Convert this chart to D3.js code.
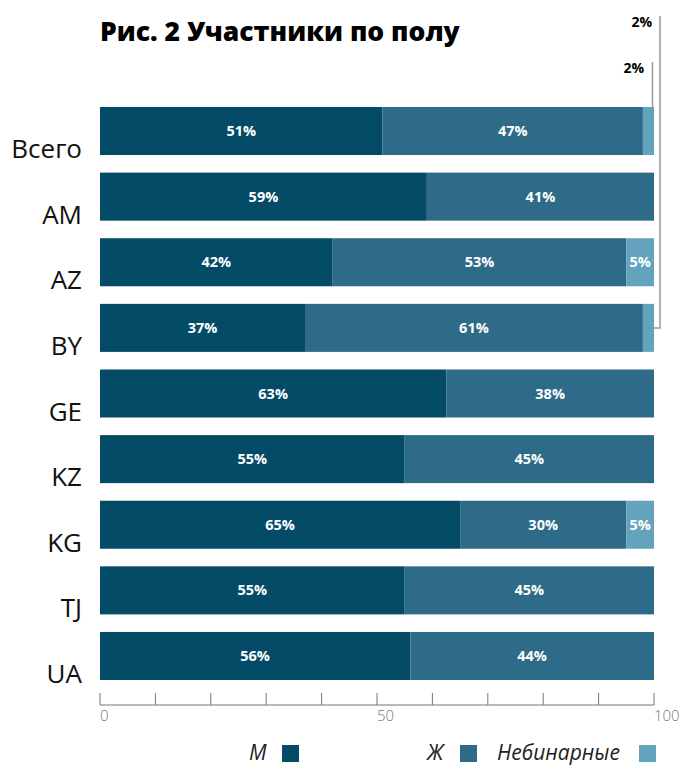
<!DOCTYPE html>
<html>
<head>
<meta charset="utf-8">
<script src="https://cdn.jsdelivr.net/npm/d3@7"></script>
<style>
  body { margin: 0; background: #fff; }
  svg { display: block; font-family: "Open Sans", "Noto Sans", sans-serif; }
</style>
</head>
<body>
<div id="chart"></div>
<script>
// data
var countries = ["Всего", "AM", "AZ", "BY", "GE", "KZ", "KG", "TJ", "UA"];
var male = [51, 59, 42, 37, 62.5, 55, 65, 55, 56];
var female = [47, 41, 53, 61, 37.5, 45, 30, 45, 44];
var nonbinary = [2, 0, 5, 2, 0, 0, 5, 0, 0];
var seriesNames = ["М", "Ж", "Небинарные"];
var colors = ["#044b67", "#2e6b88", "#64a3bd"];
var tickValues = [0, 10, 20, 30, 40, 50, 60, 70, 80, 90, 100];
var tickLabels = [0, 50, 100];

const W = 683, H = 767;

var svg = d3.select("#chart").append("svg")
    .attr("width", W)
    .attr("height", H);

var xScale = d3.scaleLinear().domain([0, 100]).range([100, 654]);
var yScale = d3.scaleBand().domain(countries).range([107, 680])
    .paddingInner(0.268).paddingOuter(0);

// title
svg.append("text")
    .attr("x", 100)
    .attr("y", 41)
    .style("font-size", "26.5px")
    .style("font-weight", 800)
    .style("fill", "#000")
    .text("Рис. 2 Участники по полу");

// stack data
var rows = countries.map((c, i) => ({country: c, vals: [male[i], female[i], nonbinary[i]]}));
var segs = [];
rows.forEach(r => {
    var x0 = 0;
    r.vals.forEach((v, k) => {
        segs.push({country: r.country, k: k, x0: x0, x1: x0 + v, v: v});
        x0 += v;
    });
});

svg.append("g").selectAll("rect")
    .data(segs.filter(d => d.v > 0))
    .enter().append("rect")
    .attr("x", d => xScale(d.x0))
    .attr("y", d => yScale(d.country))
    .attr("width", d => xScale(d.x1) - xScale(d.x0))
    .attr("height", yScale.bandwidth())
    .attr("fill", d => colors[d.k]);

svg.append("g").selectAll("text")
    .data(segs.filter(d => d.v >= 5))
    .enter().append("text")
    .attr("x", d => (xScale(d.x0) + xScale(d.x1)) / 2)
    .attr("y", d => yScale(d.country) + yScale.bandwidth() / 2 + 5)
    .attr("text-anchor", "middle")
    .style("font-size", "14.5px")
    .style("font-weight", 700)
    .style("fill", "#fff")
    .text(d => Math.round(d.v) + "%");

// category labels
svg.append("g").selectAll("text")
    .data(countries)
    .enter().append("text")
    .attr("x", 82)
    .attr("y", d => yScale(d) + yScale.bandwidth() + 3)
    .attr("text-anchor", "end")
    .style("font-size", "26px")
    .style("fill", "#111")
    .text(d => d);

// leader annotations for small 2% segments
var ann = svg.append("g");
var xEnd = xScale(100);
var yTot = yScale("Всего");
ann.append("line")
    .attr("x1", xEnd - 1.5).attr("x2", xEnd - 1.5)
    .attr("y1", yTot - 45).attr("y2", yTot)
    .attr("stroke", "#999").attr("stroke-width", 1.5);
ann.append("text")
    .attr("x", xEnd - 10).attr("y", yTot - 34)
    .attr("text-anchor", "end")
    .style("font-size", "14px").style("font-weight", 700)
    .text(Math.round(nonbinary[0]) + "%");

var yBY = yScale("BY") + yScale.bandwidth() / 2;
ann.append("path")
    .attr("d", "M" + (xEnd + 6) + "," + (yTot - 91) + "V" + yBY + "H" + xEnd)
    .attr("fill", "none")
    .attr("stroke", "#999").attr("stroke-width", 1.5);
ann.append("text")
    .attr("x", xEnd - 2).attr("y", yTot - 80)
    .attr("text-anchor", "end")
    .style("font-size", "14px").style("font-weight", 700)
    .text(Math.round(nonbinary[3]) + "%");

// x axis
var axisY = 705;
var axis = svg.append("g");
axis.append("line")
    .attr("x1", xScale(0)).attr("x2", xScale(100))
    .attr("y1", axisY).attr("y2", axisY)
    .attr("stroke", "#777").attr("stroke-width", 1);
axis.selectAll(".tick")
    .data(tickValues)
    .enter().append("line")
    .attr("x1", d => xScale(d)).attr("x2", d => xScale(d))
    .attr("y1", axisY - 12).attr("y2", axisY)
    .attr("stroke", "#777").attr("stroke-width", 1);
axis.selectAll(".lbl")
    .data(tickLabels)
    .enter().append("text")
    .attr("x", d => xScale(d))
    .attr("y", axisY + 16)
    .style("font-size", "15px")
    .style("font-weight", 300)
    .style("fill", "#777")
    .text(d => d);

// legend
var legendX = [[249, 282], [427, 460], [497, 639]];
var leg = svg.append("g");
seriesNames.forEach((s, i) => {
    leg.append("text")
        .attr("x", legendX[i][0])
        .attr("y", 760)
        .style("font-size", "21px")
        .style("font-style", "italic")
        .style("fill", "#222")
        .text(s);
    leg.append("rect")
        .attr("x", legendX[i][1])
        .attr("y", 745)
        .attr("width", 17)
        .attr("height", 17)
        .attr("fill", colors[i]);
});
</script>
</body>
</html>
